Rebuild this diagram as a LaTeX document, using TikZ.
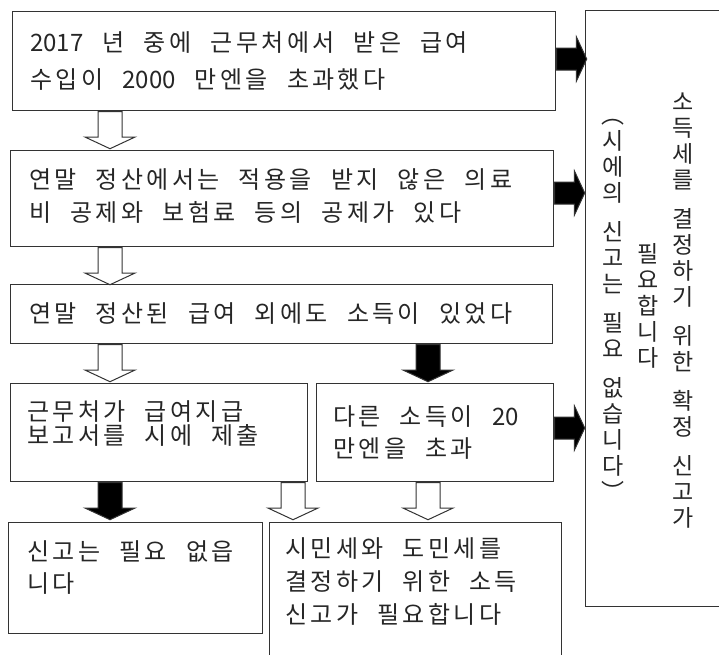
\documentclass[tikz,border=0pt]{standalone}
\usepackage{fontspec}
\usepackage{tikz}
\usetikzlibrary{shapes.arrows}
\newfontfamily\kofont[LetterSpace=14,WordSpace=2.2]{Noto Sans CJK KR}
\newfontfamily\konum{Noto Sans CJK KR}
\newfontfamily\kovert{Noto Sans CJK KR}
\tikzset{
    box/.style={draw=black!80, line width=1.2pt, rectangle, inner sep=0pt, anchor=north west},
    txt/.style={font=\kofont\fontsize{24}{33}\selectfont, text=black!85, align=left, inner sep=0pt, anchor=north west},
    vcol/.style={font=\kovert\fontsize{23}{26}\selectfont, text=black!85, align=center, inner sep=0pt},
    arr/.style={single arrow, draw=black!80, line width=1pt, inner xsep=0pt, inner ysep=11.5pt,
        single arrow head indent=0pt, single arrow tip angle=130, single arrow head extend=13pt,
        minimum height=37pt, anchor=tail},
    warr/.style={arr, fill=white, rotate=-90},
    barr/.style={arr, fill=black, rotate=-90},
    rarr/.style={arr, fill=black, inner ysep=10.5pt, single arrow head extend=11pt, minimum height=30pt}
}
\begin{document}
\begin{tikzpicture}[x=1pt, y=-1pt]
    \useasboundingbox (0,0) rectangle (719,654);
    \node[box, minimum width=543pt, minimum height=99pt] (b1) at (12,11) {};
    \node[box, minimum width=543pt, minimum height=96pt] (b2) at (10,150) {};
    \node[box, minimum width=542pt, minimum height=59pt] (b3) at (10,284) {};
    \node[box, minimum width=297pt, minimum height=98pt] (b4) at (10,383) {};
    \node[box, minimum width=237pt, minimum height=98pt] (b5) at (316,383) {};
    \node[box, minimum width=254pt, minimum height=111pt] (b6) at (8,522) {};
    \node[box, minimum width=292pt, minimum height=150pt] (b7) at (269,522) {};
    \node[box, minimum width=150pt, minimum height=596pt] (res) at (585,10) {};

    \node[txt, font=\kofont\fontsize{24}{37}\selectfont] (t1) at (30,31) {{\konum 2017} 년 중에 근무처에서 받은 급여\\수입이 {\konum 2000} 만엔을 초과했다};
    \node[txt] (t2) at (29,168) {연말 정산에서는 적용을 받지 않은 의료\\비 공제와 보험료 등의 공제가 있다};
    \node[txt] (t3) at (29,302) {연말 정산된 급여 외에도 소득이 있었다};
    \node[txt, font=\kofont\fontsize{24}{24}\selectfont] (t4) at (27,400) {근무처가 급여지급\\보고서를 시에 제출};
    \node[txt, font=\kofont\fontsize{24}{32}\selectfont] (t5) at (333,405) {다른 소득이 {\konum 20}\\만엔을 초과};
    \node[txt, font=\kofont\fontsize{24}{32}\selectfont] (t6) at (27,540) {신고는 필요 없읍\\니다};
    \node[txt] (t7) at (285,537) {시민세와 도민세를\\결정하기 위한 소득\\신고가 필요합니다};

    \node[vcol] (v1) at (683,311) {소\\득\\세\\를\\[13pt]결\\정\\하\\기\\[13pt]위\\한\\[13pt]확\\정\\[13pt]신\\고\\가};
    \node[vcol] (v2) at (648,306) {필\\요\\합\\니\\다};
    \node[vcol] (v3) at (613,310) {︵\\시\\에\\의\\[13pt]신\\고\\는\\[13pt]필\\요\\[13pt]없\\습\\니\\다\\︶};

    \node[warr] (a1) at (b1.south -| 110,0) {};
    \node[warr] (a2) at (b2.south -| 110,0) {};
    \node[warr] (a3) at (b3.south -| 110,0) {};
    \node[barr] (a4) at (b3.south -| 428,0) {};
    \node[barr] (a5) at (b4.south -| 110,0) {};
    \node[warr] (a6) at (b4.south -| 293,0) {};
    \node[warr] (a7) at (b5.south -| 428,0) {};
    \node[rarr] (r1) at (b1.east |- 0,59) {};
    \node[rarr] (r2) at (b2.east |- 0,193) {};
    \node[rarr] (r3) at (b5.east |- 0,428) {};
\end{tikzpicture}
\end{document}
